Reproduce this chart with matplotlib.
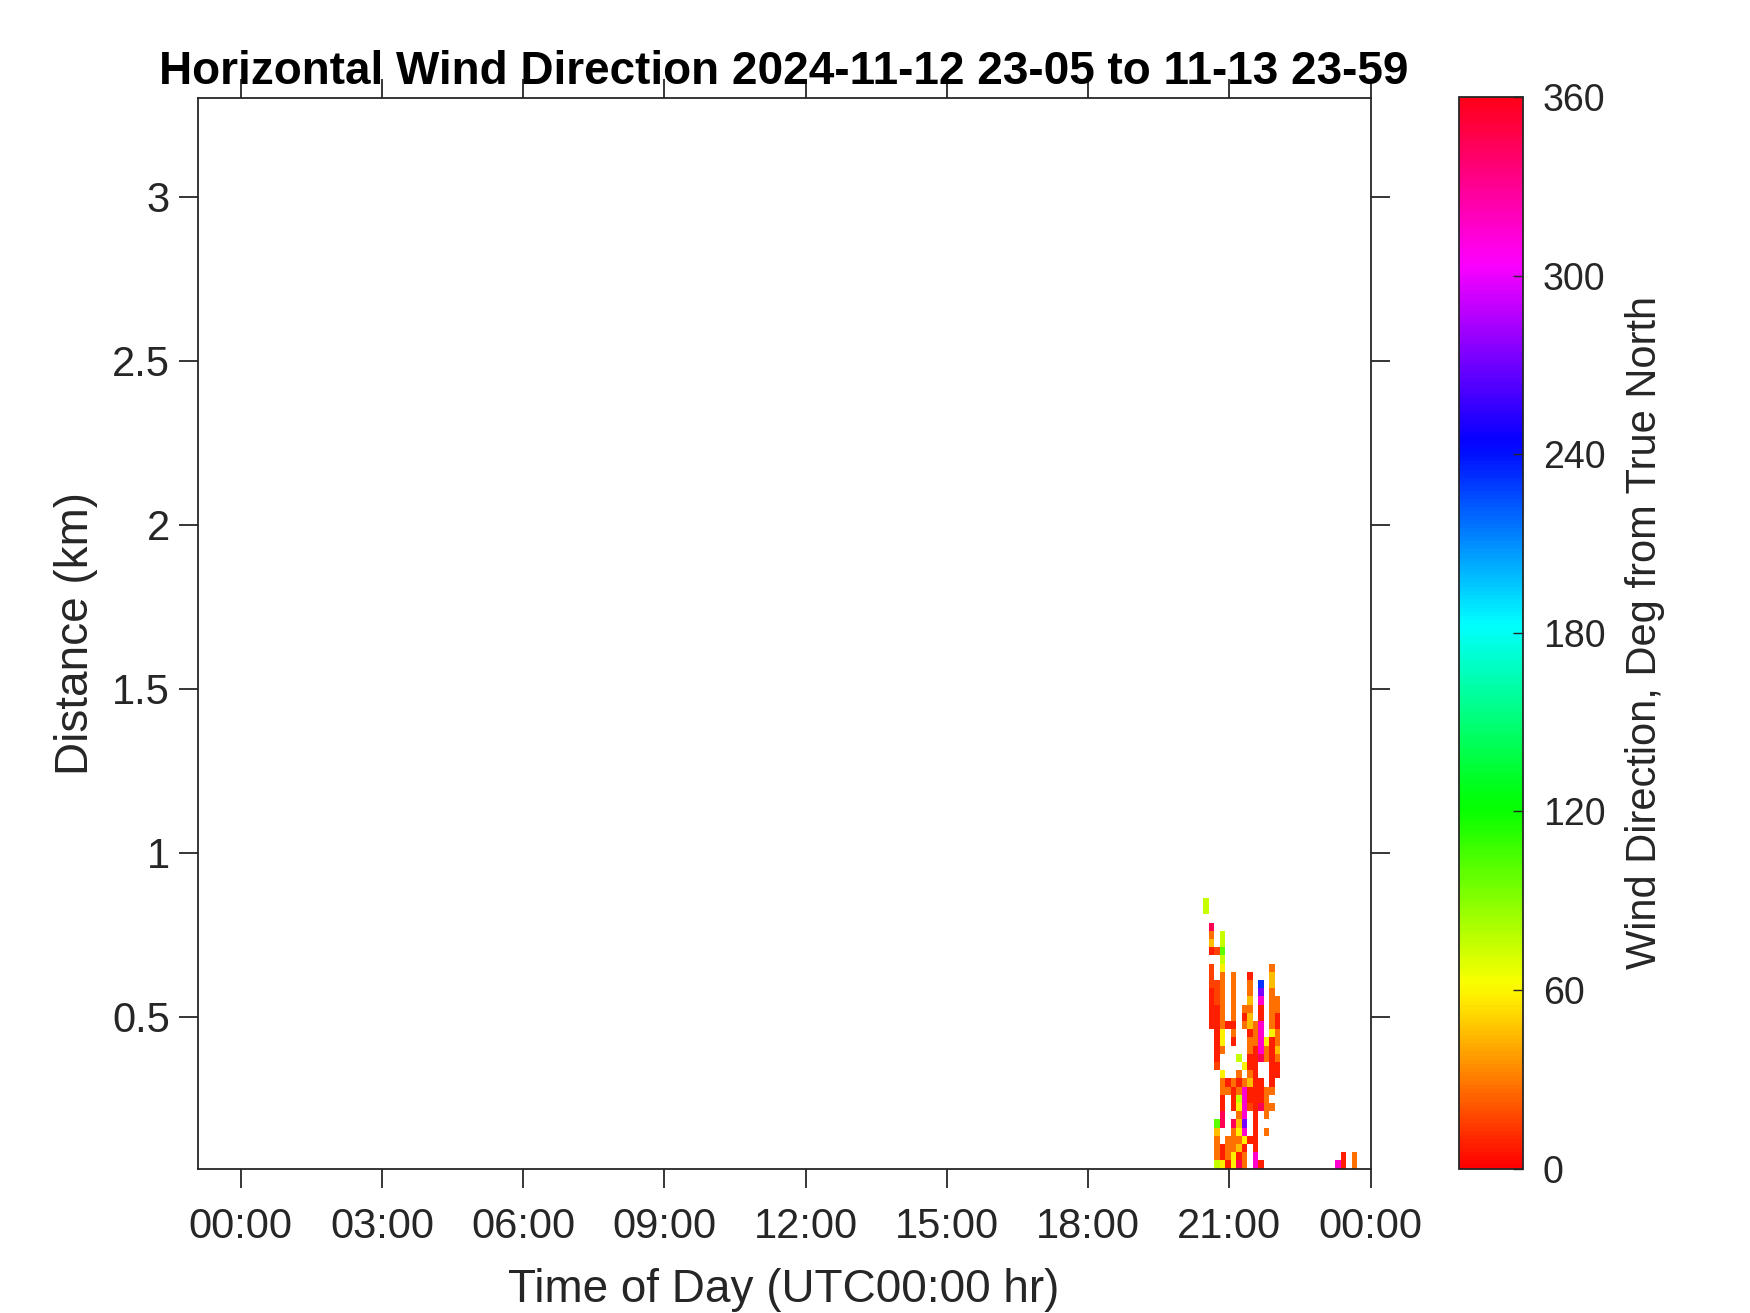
import numpy as np
import matplotlib
matplotlib.use("Agg")
import matplotlib.pyplot as plt
from matplotlib.ticker import FixedLocator, FuncFormatter

plt.rcParams['font.family'] = ['Liberation Sans', 'DejaVu Sans']

title = "Horizontal Wind Direction 2024-11-12 23-05 to 11-13 23-59"
x_label = "Time of Day (UTC00:00 hr)"
y_label = "Distance (km)"
cbar_label = "Wind Direction, Deg from True North"

# time window (hours from 00:00 on 11-13), 23:05 the day before to 23:59
t_window = [-55 / 60, 24.0]
hour_ticks = [0, 3, 6, 9, 12, 15, 18, 21, 24]
dist_ticks = [0.5, 1, 1.5, 2, 2.5, 3]
dir_ticks = [0, 60, 120, 180, 240, 300, 360]

# retrieval grid
first_scan = "20:27"      # start of first column with data
scan_minutes = 7          # one column per scan
first_gate_km = 0.0375
gate_km = 0.025
top_km = 3.30

# wind direction, one letter per cell
direction_code = {
    'R': 8, 'r': 16, 'O': 28, 'Y': 45, 'y': 58, 'G': 75, 'g': 100,
    'B': 232, 'P': 272, 'M': 315, 'C': 345,
}
# rows listed top gate first; columns = consecutive scans
direction_rows = [
    "G...........................",
    "G...........................",
    "............................",
    ".C..........................",
    ".O.G........................",
    ".Y.G........................",
    ".Rrg........................",
    "...G........................",
    ".r.y........O...............",
    ".r.O.O..R...Y...............",
    ".rrO.O..O.B.Y...............",
    ".RrO.O..O.P.O...............",
    ".RrO.O..Y.M.OO..............",
    ".RRO.O.OO.R.OO..............",
    ".RRO.O.RY.R.OR..............",
    ".RRORR.OYOM.OR..............",
    "..Ry.O..ROM.yO..............",
    "..Ry.R..OOMyRO..............",
    "..RO....ORMORY..............",
    "..R...G.RRCORO..............",
    "..r....yRR..RR..............",
    "...y..O.OR..RR..............",
    "...OROROYRR.R...............",
    "...OOROMRRROO...............",
    "...R.RGMRRRO................",
    "...R.RyMrRCOO...............",
    "...C..OM.R.O................",
    "..gC.CYP.R..................",
    "..Y..OyM.R.O................",
    "..O.OOOyRR..................",
    "..OROOYR.R..................",
    "..OROyRO.M...............R.O",
    "..GyRyCO.MR.............MR.O",
]

rows = direction_rows[::-1]  # bottom gate first
n_gate = len(rows)
n_scan = len(rows[0])
grid = np.full((n_gate, n_scan), np.nan)
for i, line in enumerate(rows):
    for j, ch in enumerate(line):
        if ch in direction_code:
            grid[i, j] = direction_code[ch]

h, m = first_scan.split(":")
t0 = int(h) + int(m) / 60
t_edges = t0 + np.arange(n_scan + 1) * scan_minutes / 60
r_edges = first_gate_km + np.arange(n_gate + 1) * gate_km

fig = plt.figure(figsize=(17.5, 13.13), dpi=100)
ax = fig.add_axes([0.1129, 0.1100, 0.6703, 0.8152])
cax = fig.add_axes([0.8335, 0.1100, 0.0370, 0.8160])

mesh = ax.pcolormesh(t_edges, r_edges, np.ma.masked_invalid(grid),
                     cmap='hsv', vmin=0, vmax=360, shading='flat')

ink = '#262626'
ax.set_xlim(t_window)
ax.set_ylim(first_gate_km, top_km)
ax.xaxis.set_major_locator(FixedLocator(hour_ticks))
ax.xaxis.set_major_formatter(FuncFormatter(lambda v, p: f"{int(round(v)) % 24:02d}:00"))
ax.yaxis.set_major_locator(FixedLocator(dist_ticks))
ax.yaxis.set_major_formatter(FuncFormatter(lambda v, p: f"{v:g}"))
ax.tick_params(direction='out', length=14, width=1.3, colors=ink, labelsize=30,
               top=True, right=True)
ax.tick_params(axis='x', pad=14)
ax.tick_params(axis='y', pad=6)
for s in ax.spines.values():
    s.set_color(ink)
    s.set_linewidth(1.3)
ax.set_xlabel(x_label, fontsize=33, color=ink, labelpad=15)
ax.set_ylabel(y_label, fontsize=33, color=ink, labelpad=10)
ax.set_title(title, fontsize=33, fontweight='bold', pad=10)

cb = fig.colorbar(mesh, cax=cax)
cb.set_ticks(dir_ticks)
cb.ax.tick_params(direction='in', length=7, width=1.0, colors=ink, labelsize=27, pad=14)
cb.outline.set_edgecolor(ink)
cb.outline.set_linewidth(1.3)
cb.set_label(cbar_label, fontsize=30, color=ink, labelpad=14)

fig.savefig("out.png", dpi=100)
